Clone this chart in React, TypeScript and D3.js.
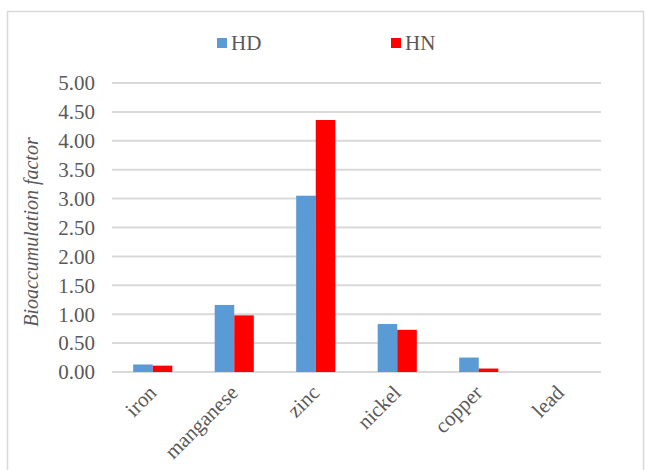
import React from 'react'
import * as d3 from 'd3'

const categories = ['iron', 'manganese', 'zinc', 'nickel', 'copper', 'lead']
const seriesNames = ['HD', 'HN']
const hdValues = [0.13, 1.16, 3.05, 0.83, 0.25, 0]
const hnValues = [0.11, 0.98, 4.36, 0.73, 0.06, 0]
const yTicks = [0, 0.5, 1, 1.5, 2, 2.5, 3, 3.5, 4, 4.5, 5]
const colors = ['#5B9BD5', '#FF0000']

const W = 653
const H = 470
const left = 112
const right = 601
const top = 83
const bottom = 372

const font = '"Liberation Serif"'
const textColor = '#595959'

const App: React.FC = () => {
  const x = d3.scaleBand().domain(categories).range([left, right]).paddingInner(0.52).paddingOuter(0.26)
  const x1 = d3.scaleBand().domain(seriesNames).range([0, x.bandwidth()])
  const y = d3.scaleLinear().domain([0, 5]).range([bottom, top])
  const series = [hdValues, hnValues]
  const legendX = [217, 391]

  return (
    <svg
      width={W}
      height={H}
      style={{ position: 'absolute', left: 0, top: 0, background: '#fff', fontFamily: font }}
    >
      {/* chart frame */}
      <rect x={7.5} y={11.5} width={636} height={470} fill="#fff" stroke="#d9d9d9" strokeWidth={1.5} />

      {/* gridlines + tick labels */}
      {yTicks.map(t => (
        <g key={t}>
          <line x1={left} x2={right} y1={y(t)} y2={y(t)} stroke="#d9d9d9" strokeWidth={2} />
          <text x={95} y={y(t)} dy="0.35em" textAnchor="end" fill={textColor}
            style={{ fontFamily: font, fontSize: '21px' }}>
            {t.toFixed(2)}
          </text>
        </g>
      ))}

      {/* bars */}
      {categories.map((c, i) => (
        <g key={c} transform={`translate(${x(c)},0)`}>
          {series.map((vals, j) => (
            <rect
              key={j}
              x={x1(seriesNames[j])}
              width={x1.bandwidth()}
              y={y(vals[i])}
              height={y(0) - y(vals[i])}
              fill={colors[j]}
            />
          ))}
        </g>
      ))}

      {/* x labels */}
      {categories.map(c => (
        <text
          key={c}
          transform={`translate(${x(c)! + x.bandwidth() / 2 + 5},${bottom + 22}) rotate(-45)`}
          textAnchor="end"
          fill={textColor}
          style={{ fontFamily: font, fontSize: '21px' }}
        >
          {c}
        </text>
      ))}

      {/* y axis title */}
      <text
        transform={`translate(38,232) rotate(-90)`}
        textAnchor="middle"
        fill={textColor}
        style={{ fontFamily: font, fontSize: '20px', fontStyle: 'italic' }}
      >
        Bioaccumulation factor
      </text>

      {/* legend */}
      {seriesNames.map((s, i) => (
        <g key={s} transform={`translate(${legendX[i]},43)`}>
          <rect x={0} y={-5} width={10} height={10} fill={colors[i]} />
          <text x={14} dy="0.35em" fill={textColor} style={{ fontFamily: font, fontSize: '21px' }}>
            {s}
          </text>
        </g>
      ))}
    </svg>
  )
}

export default App
